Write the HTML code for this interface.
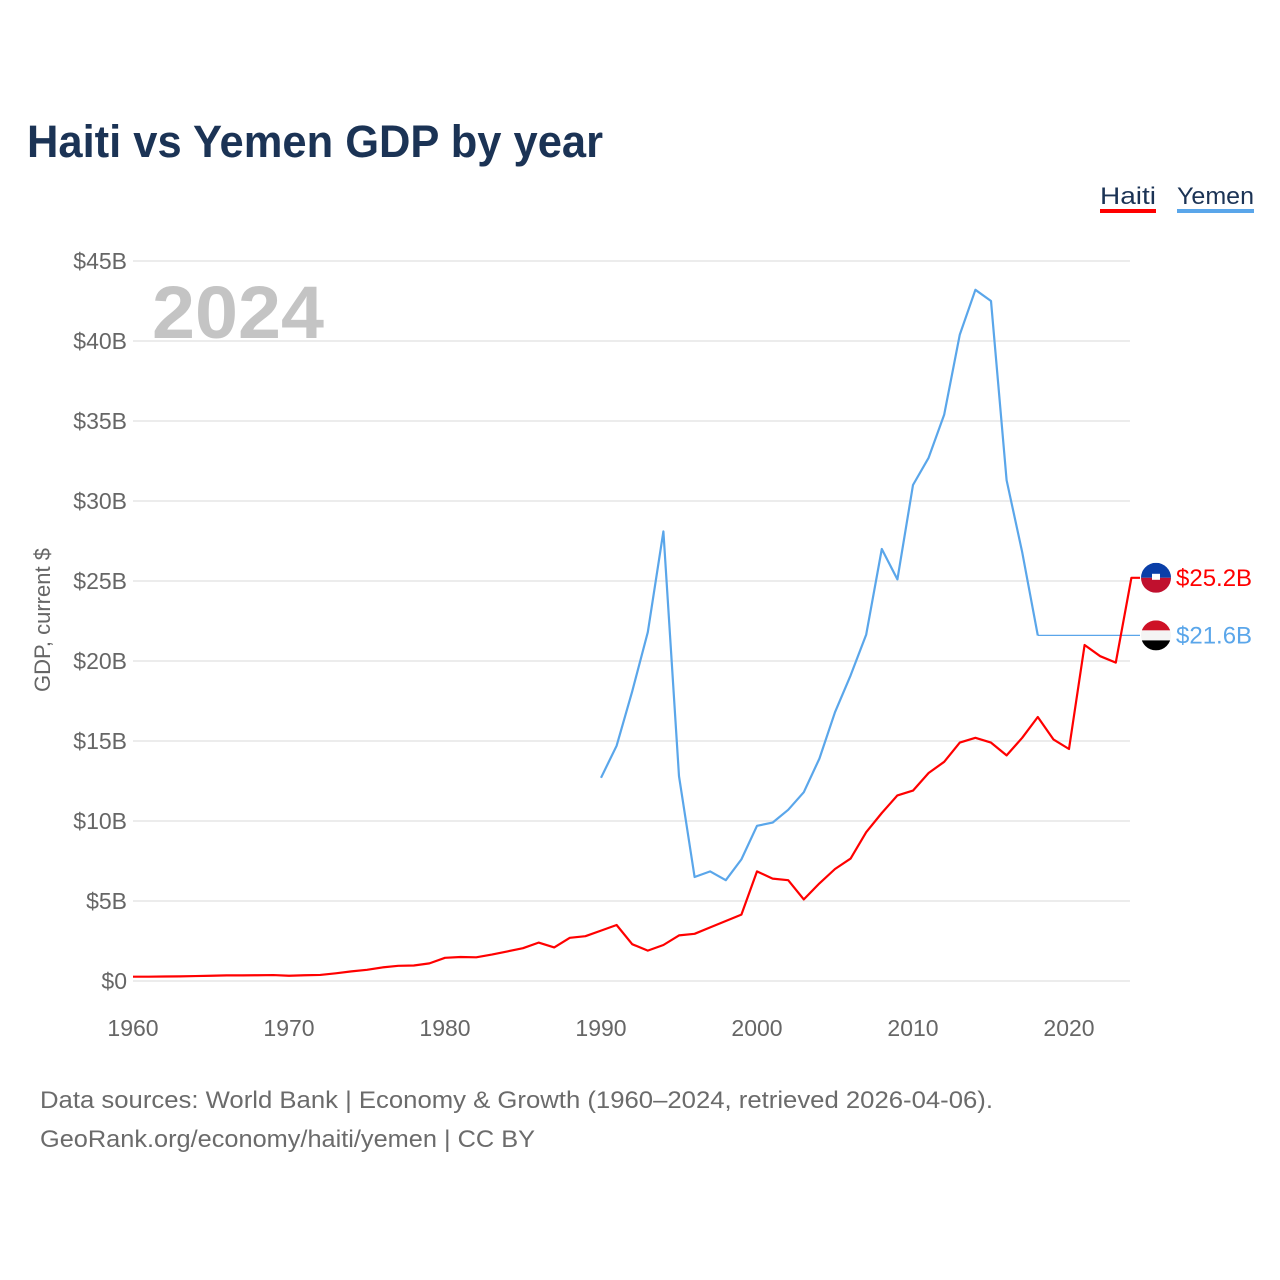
<!DOCTYPE html>
<html><head><meta charset="utf-8">
<style>
body{margin:0;background:#fff;font-family:"Liberation Sans",sans-serif;}
#wrap{position:relative;width:1280px;height:1280px;overflow:hidden;}
</style></head>
<body>
<div id="wrap">
<svg id="chart" width="1280" height="1280">
<text x="27" y="157" font-size="45" font-weight="bold" fill="#1b3355" textLength="576" lengthAdjust="spacingAndGlyphs">Haiti vs Yemen GDP by year</text>
<g>
<text x="1100" y="204" font-size="24" fill="#1b3355" textLength="56" lengthAdjust="spacingAndGlyphs">Haiti</text>
<rect x="1100" y="209" width="56" height="4" fill="#ff0000"/>
<text x="1177" y="204" font-size="24" fill="#1b3355" textLength="77" lengthAdjust="spacingAndGlyphs">Yemen</text>
<rect x="1177" y="209" width="77" height="4" fill="#5aa6ea"/>
</g>
<text x="152" y="338" font-size="74" font-weight="bold" fill="#c4c4c4" textLength="172" lengthAdjust="spacingAndGlyphs">2024</text>
<text transform="translate(50,620) rotate(-90)" text-anchor="middle" font-size="22" fill="#666">GDP, current $</text>
<g id="grid"></g><g id="series"></g><g id="labels"></g>
<text x="40" y="1108" font-size="24" fill="#6b6b6b" textLength="953" lengthAdjust="spacingAndGlyphs">Data sources: World Bank | Economy &amp; Growth (1960–2024, retrieved 2026-04-06).</text>
<text x="40" y="1147" font-size="24" fill="#6b6b6b" textLength="495" lengthAdjust="spacingAndGlyphs">GeoRank.org/economy/haiti/yemen | CC BY</text>
</svg>
</div>
<script>
const years=[];for(let y=1960;y<=2024;y++)years.push(y);
const haiti=[0.27,0.27,0.28,0.29,0.31,0.33,0.35,0.35,0.36,0.37,0.33,0.36,0.38,0.48,0.6,0.7,0.85,0.95,0.97,1.1,1.45,1.5,1.48,1.65,1.85,2.05,2.4,2.1,2.7,2.8,3.15,3.5,2.3,1.9,2.25,2.85,2.95,3.35,3.75,4.15,6.85,6.4,6.3,5.1,6.1,7.0,7.65,9.3,10.5,11.6,11.9,13.0,13.7,14.9,15.2,14.9,14.1,15.2,16.5,15.1,14.5,21.0,20.3,19.9,25.2];
const yemenYears=[1990,1991,1992,1993,1994,1995,1996,1997,1998,1999,2000,2001,2002,2003,2004,2005,2006,2007,2008,2009,2010,2011,2012,2013,2014,2015,2016,2017,2018];
const yemen=[12.7,14.7,18.1,21.8,28.1,12.8,6.5,6.85,6.3,7.6,9.7,9.9,10.7,11.8,13.9,16.8,19.1,21.65,27.0,25.1,31.0,32.7,35.4,40.4,43.2,42.5,31.3,26.8,21.6];
const yTicks=[0,5,10,15,20,25,30,35,40,45];
const xTicks=[1960,1970,1980,1990,2000,2010,2020];
const X=y=>133+(y-1960)*15.6;
const Y=v=>981-v*16;
const NS='http://www.w3.org/2000/svg';
function mk(t,a,p){const e=document.createElementNS(NS,t);for(const k in a)e.setAttribute(k,a[k]);p.appendChild(e);return e;}
const grid=document.getElementById('grid'),ser=document.getElementById('series'),lab=document.getElementById('labels');
yTicks.forEach(v=>{
 const l=mk('line',{x1:133,x2:1130,y1:Y(v),y2:Y(v),stroke:'#e6e6e6','stroke-width':1.5},grid);
 
 
 const t=mk('text',{x:127,y:Y(v)+8,'text-anchor':'end','font-size':23,fill:'#666'},grid);
 t.textContent='$'+v+(v?'B':'');
 
 
});
xTicks.forEach(v=>{
 const t=mk('text',{x:X(v),y:1036,'text-anchor':'middle','font-size':23,fill:'#666'},grid);
 t.textContent=v;
 
 
});
const last=yemen[yemen.length-1];
const yc=mk('line',{x1:X(yemenYears[yemenYears.length-1]),x2:1140,y1:Y(last),y2:Y(last),stroke:'#5aa6ea','stroke-width':1.2},ser);


const py=mk('polyline',{points:yemenYears.map((y,i)=>X(y)+','+Y(yemen[i])).join(' '),fill:'none',stroke:'#5aa6ea','stroke-width':2.2,'stroke-linejoin':'round'},ser);


const ph=mk('polyline',{points:years.map((y,i)=>X(y)+','+Y(haiti[i])).join(' ')+' 1140,'+Y(haiti[haiti.length-1]),fill:'none',stroke:'#ff0000','stroke-width':2.2,'stroke-linejoin':'round'},ser);


function flag(cy,top,mid,bot,name){
 const g=mk('g',{},lab);
 
 
 const cid=name+'-clip';
 const cp=mk('clipPath',{id:cid},g);mk('circle',{cx:1156,cy:cy,r:15},cp);
 const gg=mk('g',{'clip-path':'url(#'+cid+')'},g);
 if(mid){mk('rect',{x:1141,y:cy-15,width:30,height:10,fill:top},gg);mk('rect',{x:1141,y:cy-5,width:30,height:10,fill:mid},gg);mk('rect',{x:1141,y:cy+5,width:30,height:10,fill:bot},gg);}
 else{mk('rect',{x:1141,y:cy-15,width:30,height:15,fill:top},gg);mk('rect',{x:1141,y:cy,width:30,height:15,fill:bot},gg);mk('rect',{x:1152,y:cy-4,width:8,height:6,fill:'#fff'},gg);}
}
flag(Y(haiti[haiti.length-1]),'#0a3fa8',null,'#c0102e','haiti-flag');
flag(Y(last),'#ce1126','#f4f4f4','#000','yemen-flag');
const th=mk('text',{x:1176,y:Y(haiti[haiti.length-1])+8,'font-size':24,fill:'#ff0000'},lab);
th.textContent='$'+haiti[haiti.length-1].toFixed(1)+'B';


const ty=mk('text',{x:1176,y:Y(last)+8,'font-size':24,fill:'#5aa6ea'},lab);
ty.textContent='$'+last.toFixed(1)+'B';


</script>
</body></html>
